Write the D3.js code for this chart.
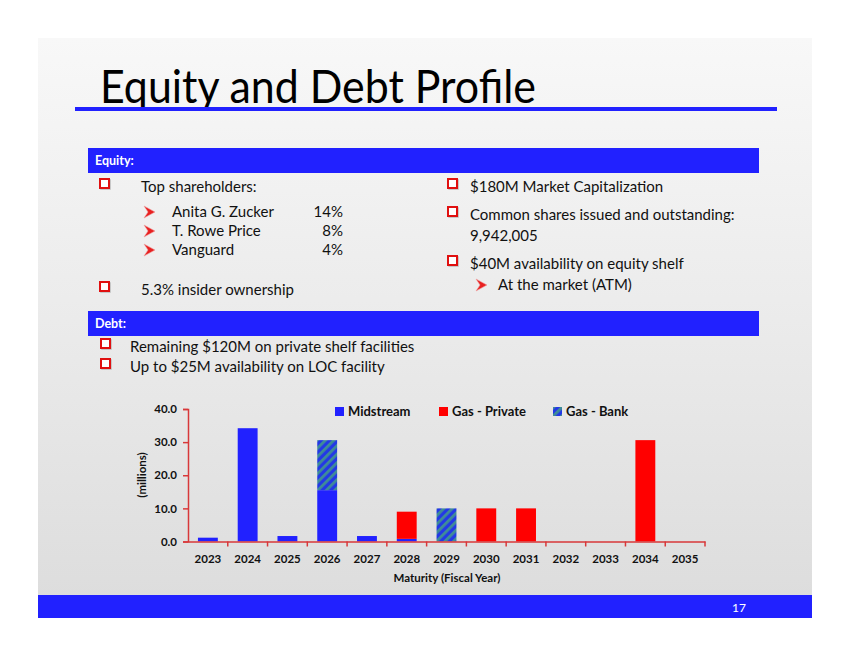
<!DOCTYPE html>
<html>
<head>
<meta charset="utf-8">
<script src="https://cdn.jsdelivr.net/npm/d3@7"></script>
<style>
  html, body { margin: 0; padding: 0; background: #ffffff; }
  svg { display: block; }
  text { font-family: Lato, "Open Sans", sans-serif; }
</style>
</head>
<body>
<svg id="chart" width="850" height="657"></svg>
<script>
// ---------- data ----------
const years = ["2023","2024","2025","2026","2027","2028","2029","2030","2031","2032","2033","2034","2035"];
const midstream  = [1.15, 34.2, 1.65, 15.5, 1.65, 0.8, 0, 0, 0, 0, 0, 0, 0];
const gasPrivate = [0, 0, 0, 0, 0, 8.2, 0, 10.0, 10.0, 0, 0, 30.6, 0];
const gasBank    = [0, 0, 0, 15.1, 0, 0, 10.0, 0, 0, 0, 0, 0, 0];
const seriesNames = ["Midstream", "Gas - Private", "Gas - Bank"];
const yTicks = [0, 10, 20, 30, 40];

const titleText = "Equity and Debt Profile";
const shareholders = ["Anita G. Zucker", "T. Rowe Price", "Vanguard"];
const shareholderPct = ["14%", "8%", "4%"];

// ---------- setup ----------
const svg = d3.select("#chart");
const defs = svg.append("defs");

const bg = defs.append("linearGradient").attr("id", "bg").attr("x1", 0).attr("y1", 0).attr("x2", 0).attr("y2", 1);
bg.append("stop").attr("offset", "0%").attr("stop-color", "#f8f8f8");
bg.append("stop").attr("offset", "45%").attr("stop-color", "#ececec");
bg.append("stop").attr("offset", "100%").attr("stop-color", "#dcdcdc");

const pat = defs.append("pattern").attr("id", "hatch").attr("patternUnits", "userSpaceOnUse")
  .attr("width", 6).attr("height", 6).attr("patternTransform", "rotate(45)");
pat.append("rect").attr("width", 6).attr("height", 6).attr("fill", "#2338e6");
pat.append("rect").attr("x", 0).attr("width", 2.8).attr("height", 6).attr("fill", "#3f8d96");

const blue = "#2121ff";
const red = "#ff0000";

// slide background
svg.append("rect").attr("x", 38).attr("y", 38).attr("width", 774).attr("height", 580).attr("fill", "url(#bg)");

// title
svg.append("text").attr("x", 100).attr("y", 103).attr("font-size", 46).attr("fill", "#000")
  .attr("font-family", "'Open Sans', sans-serif")
  .attr("textLength", 436).attr("lengthAdjust", "spacingAndGlyphs")
  .text(titleText);
svg.append("rect").attr("x", 75).attr("y", 107).attr("width", 702).attr("height", 4).attr("fill", blue);

// header bars
function header(y, label) {
  svg.append("rect").attr("x", 88).attr("y", y).attr("width", 671).attr("height", 25).attr("fill", blue);
  svg.append("text").attr("x", 95).attr("y", y + 17).attr("font-size", 12.5).attr("font-weight", "bold")
    .attr("fill", "#fff").text(label);
}
header(148, "Equity:");
header(311, "Debt:");

function sqBullet(x, y) {
  svg.append("rect").attr("x", x + 1).attr("y", y + 1).attr("width", 9).attr("height", 9)
    .attr("fill", "none").attr("stroke", "#bbb").attr("stroke-width", 1.5);
  svg.append("rect").attr("x", x).attr("y", y).attr("width", 9).attr("height", 9)
    .attr("fill", "#fff").attr("stroke", "#e01010").attr("stroke-width", 2);
}
function arrowBullet(x, y) {
  svg.append("path").attr("d", `M${x},${y} L${x + 11},${y + 6} L${x},${y + 12} L${x + 4},${y + 6} Z`)
    .attr("fill", "#e82020").attr("stroke", "#f0a0a0").attr("stroke-width", 0.6);
}
function txt(x, y, s, size, anchor) {
  return svg.append("text").attr("x", x).attr("y", y).attr("font-size", size || 15)
    .attr("text-anchor", anchor || "start").attr("fill", "#111").text(s);
}

// Equity left column
sqBullet(100, 179); txt(141, 192, "Top shareholders:");
shareholders.forEach((s, i) => {
  const y = 217 + i * 19;
  arrowBullet(144, y - 11);
  txt(172, y, s);
  txt(343, y, shareholderPct[i], 15, "end");
});
sqBullet(100, 282); txt(141, 295, "5.3% insider ownership");

// Equity right column
sqBullet(448, 179); txt(470, 192, "$180M Market Capitalization");
sqBullet(448, 207); txt(470, 220, "Common shares issued and outstanding:");
txt(470, 241, "9,942,005");
sqBullet(448, 256); txt(470, 269, "$40M availability on equity shelf");
arrowBullet(476, 279); txt(498, 290, "At the market (ATM)");

// Debt
sqBullet(101, 339); txt(130, 352, "Remaining $120M on private shelf facilities");
sqBullet(101, 359); txt(130, 372, "Up to $25M availability on LOC facility");

// ---------- chart ----------
const x0 = 188, x1 = 705, yBase = 541.5, yTop = 409;
const x = d3.scaleBand().domain(years).range([x0, x1]).paddingInner(0).paddingOuter(0);
const y = d3.scaleLinear().domain([0, 40]).range([yBase, yTop]);

const table = years.map((yr, i) => ({ year: yr, "Midstream": midstream[i], "Gas - Private": gasPrivate[i], "Gas - Bank": gasBank[i] }));
const stacked = d3.stack().keys(seriesNames)(table);
const fills = { "Midstream": blue, "Gas - Private": red, "Gas - Bank": "url(#hatch)" };
const barW = x.bandwidth() * 0.5;

const gBars = svg.append("g");
stacked.forEach(layer => {
  gBars.selectAll(null).data(layer.filter(d => d[1] - d[0] > 0)).enter().append("rect")
    .attr("x", d => x(d.data.year) + (x.bandwidth() - barW) / 2)
    .attr("width", barW)
    .attr("y", d => y(d[1]))
    .attr("height", d => y(d[0]) - y(d[1]))
    .attr("fill", fills[layer.key]);
});

const axisColor = "#d8383a";
// y axis
const yAxis = svg.append("g").attr("transform", `translate(${x0},0)`)
  .call(d3.axisLeft(y).tickValues(yTicks).tickSize(5).tickPadding(6).tickFormat(d3.format(".1f")));
yAxis.select(".domain").attr("stroke", axisColor).attr("stroke-width", 1.5);
yAxis.selectAll(".tick line").attr("stroke", axisColor).attr("stroke-width", 1.5);
yAxis.selectAll(".tick text").attr("font-size", 11.5).attr("font-weight", "bold").attr("fill", "#111")
  .attr("font-family", "Lato, sans-serif");

// x axis
const xAxis = svg.append("g").attr("transform", `translate(0,${yBase})`)
  .call(d3.axisBottom(x).tickSize(0).tickPadding(13));
xAxis.select(".domain").attr("stroke", axisColor).attr("stroke-width", 1.5);
xAxis.selectAll(".tick text").attr("font-size", 11.5).attr("font-weight", "bold").attr("fill", "#111")
  .attr("font-family", "Lato, sans-serif");
// boundary ticks
xAxis.selectAll(null).data(years.slice(1)).enter().append("line")
  .attr("x1", d => x(d)).attr("x2", d => x(d)).attr("y1", 0).attr("y2", 5)
  .attr("stroke", axisColor).attr("stroke-width", 1.5);
xAxis.append("line").attr("x1", x1).attr("x2", x1).attr("y1", 0).attr("y2", 5)
  .attr("stroke", axisColor).attr("stroke-width", 1.5);

// axis titles
svg.append("text").attr("transform", `translate(146,475) rotate(-90)`).attr("text-anchor", "middle")
  .attr("font-size", 11.5).attr("font-weight", "bold").attr("fill", "#111").text("(millions)");
svg.append("text").attr("x", 447).attr("y", 582).attr("text-anchor", "middle")
  .attr("font-size", 11.5).attr("font-weight", "bold").attr("fill", "#111").text("Maturity (Fiscal Year)");

// legend
const legendX = [335, 439, 553];
seriesNames.forEach((name, i) => {
  svg.append("rect").attr("x", legendX[i]).attr("y", 407).attr("width", 9).attr("height", 9).attr("fill", fills[name]);
  svg.append("text").attr("x", legendX[i] + 13).attr("y", 416).attr("font-size", 13).attr("font-weight", "bold")
    .attr("fill", "#111").text(name);
});

// footer
svg.append("rect").attr("x", 38).attr("y", 595).attr("width", 774).attr("height", 23).attr("fill", blue);
svg.append("text").attr("x", 739).attr("y", 612).attr("text-anchor", "middle").attr("font-size", 12)
  .attr("fill", "#fff").text("17");
</script>
</body>
</html>
